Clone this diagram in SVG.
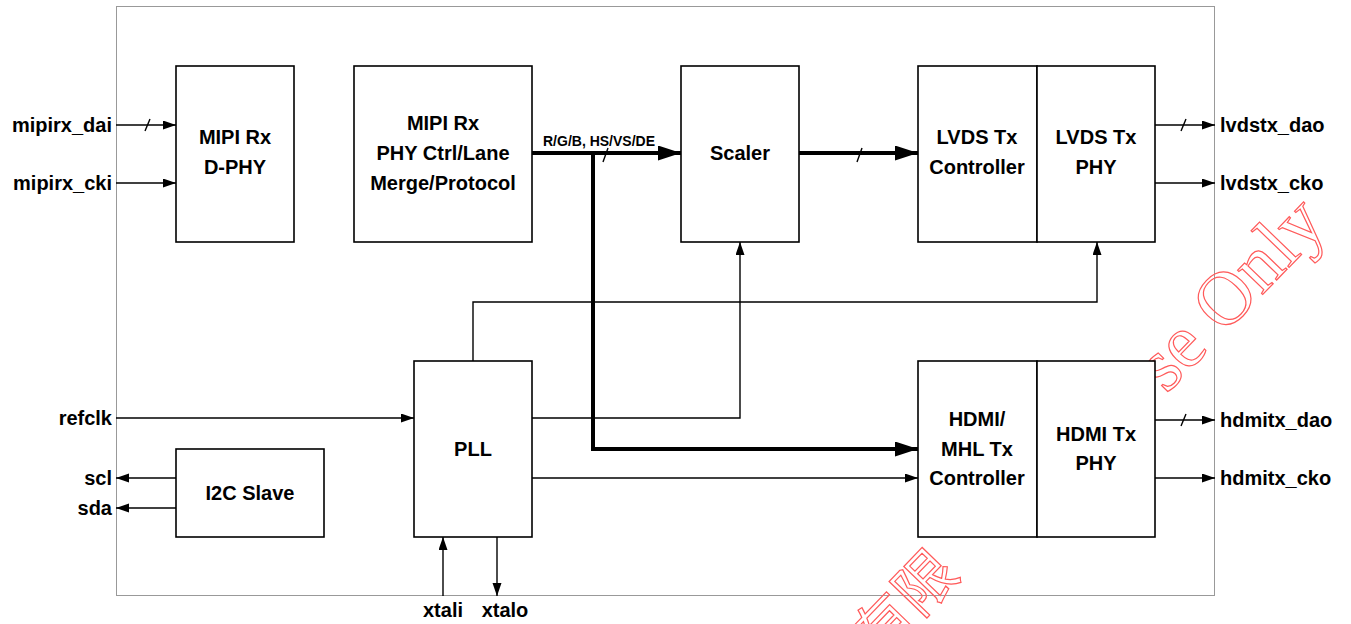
<svg xmlns="http://www.w3.org/2000/svg" width="1351" height="624" viewBox="0 0 1351 624">
<defs>
<style>
.box{fill:#fff;stroke:#000;stroke-width:1.6}
.t{font-family:"Liberation Sans",Arial,sans-serif;font-weight:bold;font-size:20px;fill:#000}
.c{text-anchor:middle}
.e{text-anchor:end}
.w{stroke:#000;stroke-width:1.4;fill:none}
.th{stroke:#000;stroke-width:4;fill:none}
.wm{font-family:"Liberation Serif","Times New Roman",serif;fill:none;stroke:#ff5a5a;stroke-width:1.2}
.wmc{font-family:"Noto Sans CJK SC",sans-serif;fill:none;stroke:#ff5a5a;stroke-width:1.2}
</style>
<marker id="a" markerUnits="userSpaceOnUse" markerWidth="14" markerHeight="10" refX="13" refY="4.5" orient="auto"><path d="M0,0 L13,4.5 L0,9 z" fill="#000"/></marker>
<marker id="A" markerUnits="userSpaceOnUse" markerWidth="24" markerHeight="16" refX="23" refY="7.5" orient="auto"><path d="M0,0 L23,7.5 L0,15 z" fill="#000"/></marker>
</defs>
<rect width="1351" height="624" fill="#fff"/>
<rect x="116.5" y="6.5" width="1098" height="589" fill="none" stroke="#999" stroke-width="1"/>

<g id="watermark">
<text class="wm" font-size="76" text-anchor="end" transform="translate(1329,226) rotate(-46)">se Only</text>
<text class="wmc" font-size="60" transform="translate(878,662) rotate(-46)">有限</text>
</g>

<g id="connectors">
<line class="w" x1="116" y1="125" x2="176" y2="125" marker-end="url(#a)"/>
<line class="w" x1="145" y1="131" x2="150" y2="119"/>
<line class="w" x1="116" y1="183" x2="176" y2="183" marker-end="url(#a)"/>
<line class="th" x1="532" y1="153" x2="681" y2="153" marker-end="url(#A)"/>
<line class="w" x1="603" y1="162" x2="608" y2="148" stroke-width="2"/>
<polyline class="th" points="593,153 593,449 918,449" marker-end="url(#A)"/>
<line class="th" x1="799" y1="153" x2="918" y2="153" marker-end="url(#A)"/>
<line class="w" x1="857" y1="162" x2="862" y2="148" stroke-width="2"/>
<line class="w" x1="1155" y1="125" x2="1215" y2="125" marker-end="url(#a)"/>
<line class="w" x1="1181" y1="131" x2="1186" y2="119"/>
<line class="w" x1="1155" y1="183" x2="1215" y2="183" marker-end="url(#a)"/>
<line class="w" x1="1155" y1="420" x2="1215" y2="420" marker-end="url(#a)"/>
<line class="w" x1="1181" y1="426" x2="1186" y2="414"/>
<line class="w" x1="1155" y1="478" x2="1215" y2="478" marker-end="url(#a)"/>
<line class="w" x1="116" y1="418" x2="414" y2="418" marker-end="url(#a)"/>
<polyline class="w" points="532,418 740,418 740,242" marker-end="url(#a)"/>
<polyline class="w" points="473,361 473,302 1097,302 1097,242" stroke-width="1" marker-end="url(#a)"/>
<line class="w" x1="532" y1="478" x2="918" y2="478" marker-end="url(#a)"/>
<line class="w" x1="176" y1="478" x2="116" y2="478" stroke-width="2" marker-end="url(#a)"/>
<line class="w" x1="176" y1="508" x2="116" y2="508" stroke-width="2" marker-end="url(#a)"/>
<line class="w" x1="443" y1="596" x2="443" y2="537" marker-end="url(#a)"/>
<line class="w" x1="497" y1="537" x2="497" y2="596" marker-end="url(#a)"/>
</g>

<g id="dphy"><rect class="box" x="176" y="66" width="118" height="176"/>
<text class="t c" x="235" y="144">MIPI Rx</text><text class="t c" x="235" y="174">D-PHY</text></g>
<g id="phyctrl"><rect class="box" x="354" y="66" width="178" height="176"/>
<text class="t c" x="443" y="130">MIPI Rx</text><text class="t c" x="443" y="160">PHY Ctrl/Lane</text><text class="t c" x="443" y="190">Merge/Protocol</text></g>
<g id="scaler"><rect class="box" x="681" y="66" width="118" height="176"/>
<text class="t c" x="740" y="160">Scaler</text></g>
<g id="lvdsctrl"><rect class="box" x="918" y="66" width="119" height="176"/>
<text class="t c" x="977" y="144">LVDS Tx</text><text class="t c" x="977" y="174">Controller</text></g>
<g id="lvdsphy"><rect class="box" x="1037" y="66" width="118" height="176"/>
<text class="t c" x="1096" y="144">LVDS Tx</text><text class="t c" x="1096" y="174">PHY</text></g>
<g id="pll"><rect class="box" x="414" y="361" width="118" height="176"/>
<text class="t c" x="473" y="456">PLL</text></g>
<g id="i2c"><rect class="box" x="176" y="449" width="148" height="88"/>
<text class="t c" x="250" y="500">I2C Slave</text></g>
<g id="hdmictrl"><rect class="box" x="918" y="361" width="119" height="176"/>
<text class="t c" x="977" y="426">HDMI/</text><text class="t c" x="977" y="456">MHL Tx</text><text class="t c" x="977" y="485">Controller</text></g>
<g id="hdmiphy"><rect class="box" x="1037" y="361" width="118" height="176"/>
<text class="t c" x="1096" y="441">HDMI Tx</text><text class="t c" x="1096" y="470">PHY</text></g>

<g id="labels">
<text class="t" x="543" y="146" style="font-size:14px">R/G/B, HS/VS/DE</text>
<text class="t e" x="112" y="132">mipirx_dai</text>
<text class="t e" x="112" y="190">mipirx_cki</text>
<text class="t e" x="112" y="425">refclk</text>
<text class="t e" x="112" y="485">scl</text>
<text class="t e" x="112" y="515">sda</text>
<text class="t c" x="443" y="617">xtali</text>
<text class="t c" x="505" y="617">xtalo</text>
<text class="t" x="1220" y="132">lvdstx_dao</text>
<text class="t" x="1220" y="190">lvdstx_cko</text>
<text class="t" x="1220" y="427">hdmitx_dao</text>
<text class="t" x="1220" y="485">hdmitx_cko</text>
</g>
</svg>
